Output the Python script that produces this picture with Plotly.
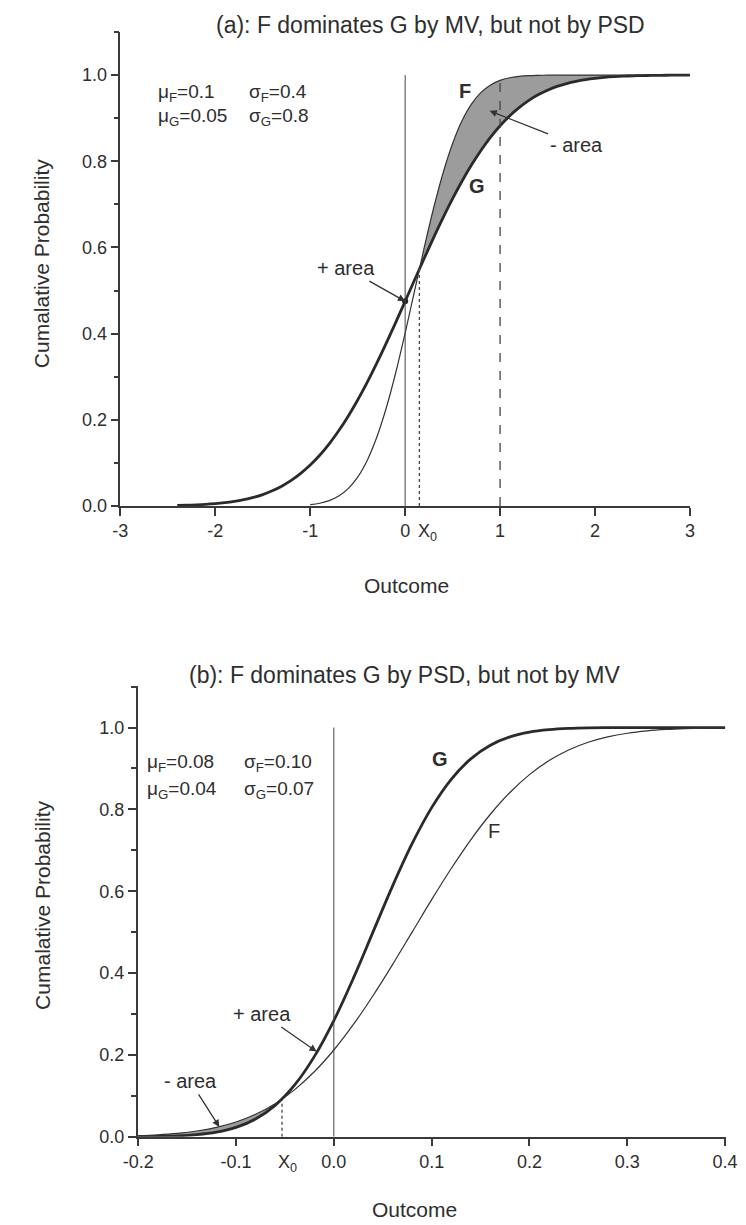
import plotly.graph_objects as go

FONT = "Liberation Sans, Arial, Helvetica, sans-serif"
TXT = "#2e2e2e"
AXC = "#3a3a3a"
SHADE = "#9c9c9c"

# ---------------- Panel (a) data ----------------
a_x_F = [-1.0, -0.9, -0.8, -0.7, -0.6, -0.5, -0.4, -0.3, -0.2, -0.1,
         0.0, 0.1, 0.2, 0.3, 0.4, 0.5, 0.6, 0.7, 0.8, 0.9,
         1.0, 1.1, 1.2, 1.3, 1.4, 1.5, 1.6, 1.7, 1.8, 1.9,
         2.0, 2.1, 2.2, 2.3, 2.4, 2.5, 2.6, 2.7, 2.8, 2.9, 3.0]
a_F = [0.0030, 0.0062, 0.0122, 0.0228, 0.0401, 0.0668, 0.1056, 0.1587, 0.2266, 0.3085,
       0.4013, 0.5000, 0.5987, 0.6915, 0.7734, 0.8413, 0.8944, 0.9332, 0.9599, 0.9772,
       0.9878, 0.9938, 0.9970, 0.9987, 0.9994, 0.9998, 0.9999, 1.0000, 1.0000, 1.0000,
       1.0000, 1.0000, 1.0000, 1.0000, 1.0000, 1.0000, 1.0000, 1.0000, 1.0000, 1.0000, 1.0000]

a_x_G = [-2.4, -2.3, -2.2, -2.1, -2.0, -1.9, -1.8, -1.7, -1.6, -1.5,
         -1.4, -1.3, -1.2, -1.1, -1.0, -0.9, -0.8, -0.7, -0.6, -0.5,
         -0.4, -0.3, -0.2, -0.1, 0.0, 0.1, 0.2, 0.3, 0.4, 0.5,
         0.6, 0.7, 0.8, 0.9, 1.0, 1.1, 1.2, 1.3, 1.4, 1.5,
         1.6, 1.7, 1.8, 1.9, 2.0, 2.1, 2.2, 2.3, 2.4, 2.5,
         2.6, 2.7, 2.8, 2.9, 3.0]
a_G = [0.0011, 0.0017, 0.0025, 0.0036, 0.0052, 0.0074, 0.0104, 0.0144, 0.0196, 0.0263,
       0.0350, 0.0458, 0.0591, 0.0753, 0.0947, 0.1175, 0.1440, 0.1743, 0.2083, 0.2459,
       0.2869, 0.3309, 0.3773, 0.4256, 0.4751, 0.5249, 0.5744, 0.6227, 0.6691, 0.7131,
       0.7541, 0.7917, 0.8257, 0.8560, 0.8825, 0.9053, 0.9247, 0.9409, 0.9542, 0.9650,
       0.9737, 0.9804, 0.9856, 0.9896, 0.9926, 0.9948, 0.9964, 0.9975, 0.9983, 0.9989,
       0.9993, 0.9995, 0.9997, 0.9998, 0.9999]

a_x0, a_y0 = 0.15, 0.5497          # crossing point x0
a_dash_x, a_dash_y = 1.0, 0.9878   # dashed reference at outcome 1
a_dot_x, a_dot_y = 0.0, 0.4751     # G at outcome 0
a_xticks = [-3, -2, -1, 0, 1, 2, 3]
a_xticktext = ["-3", "-2", "-1", "0", "1", "2", "3"]

# ---------------- Panel (b) data ----------------
b_x = [-0.20, -0.18, -0.16, -0.14, -0.12, -0.10, -0.08, -0.06, -0.04, -0.02,
       0.00, 0.02, 0.04, 0.06, 0.08, 0.10, 0.12, 0.14, 0.16, 0.18,
       0.20, 0.22, 0.24, 0.26, 0.28, 0.30, 0.32, 0.34, 0.36, 0.38, 0.40]
b_F = [0.0026, 0.0047, 0.0082, 0.0139, 0.0228, 0.0359, 0.0548, 0.0808, 0.1151, 0.1587,
       0.2119, 0.2743, 0.3446, 0.4207, 0.5000, 0.5793, 0.6554, 0.7257, 0.7881, 0.8413,
       0.8849, 0.9192, 0.9452, 0.9641, 0.9772, 0.9861, 0.9918, 0.9953, 0.9974, 0.9987, 0.9993]
b_G = [0.0003, 0.0008, 0.0021, 0.0051, 0.0111, 0.0228, 0.0432, 0.0766, 0.1265, 0.1957,
       0.2839, 0.3875, 0.5000, 0.6125, 0.7161, 0.8043, 0.8735, 0.9234, 0.9568, 0.9772,
       0.9889, 0.9949, 0.9979, 0.9992, 0.9997, 0.9999, 1.0000, 1.0000, 1.0000, 1.0000, 1.0000]
b_x0, b_y0 = -0.053, 0.0912
b_xticks = [-0.2, -0.1, 0.0, 0.1, 0.2, 0.3, 0.4]
b_xticktext = ["-0.2", "-0.1", "0.0", "0.1", "0.2", "0.3", "0.4"]

y_ticks = [0.0, 0.2, 0.4, 0.6, 0.8, 1.0]
y_ticktext = ["0.0", "0.2", "0.4", "0.6", "0.8", "1.0"]
y_minor = [0.1, 0.3, 0.5, 0.7, 0.9, 1.1]

# ---------------- shading polygons ----------------
sa_G_x = [a_x0] + [x for x in a_x_G if x > a_x0]
sa_G_y = [a_y0] + [y for x, y in zip(a_x_G, a_G) if x > a_x0]
sa_F_x = [a_x0] + [x for x in a_x_F if x > a_x0]
sa_F_y = [a_y0] + [y for x, y in zip(a_x_F, a_F) if x > a_x0]

sb_G_x = [x for x in b_x if x < b_x0] + [b_x0]
sb_G_y = [y for x, y in zip(b_x, b_G) if x < b_x0] + [b_y0]
sb_F_x = [x for x in b_x if x < b_x0] + [b_x0]
sb_F_y = [y for x, y in zip(b_x, b_F) if x < b_x0] + [b_y0]

fig = go.Figure()
# panel (a)
fig.add_trace(go.Scatter(x=sa_G_x, y=sa_G_y, mode="lines", line=dict(width=0, shape="spline"),
                         xaxis="x", yaxis="y", hoverinfo="skip", showlegend=False))
fig.add_trace(go.Scatter(x=sa_F_x, y=sa_F_y, mode="lines", line=dict(width=0, shape="spline"),
                         fill="tonexty", fillcolor=SHADE,
                         xaxis="x", yaxis="y", hoverinfo="skip", showlegend=False))
fig.add_trace(go.Scatter(x=a_x_G, y=a_G, mode="lines", name="G",
                         line=dict(color="#2a2a2a", width=2.8, shape="spline"),
                         xaxis="x", yaxis="y", showlegend=False))
fig.add_trace(go.Scatter(x=a_x_F, y=a_F, mode="lines", name="F",
                         line=dict(color="#333333", width=1.2, shape="spline"),
                         xaxis="x", yaxis="y", showlegend=False))
fig.add_trace(go.Scatter(x=[a_dot_x], y=[a_dot_y], mode="markers",
                         marker=dict(color="#222222", size=6),
                         xaxis="x", yaxis="y", showlegend=False))
# panel (b)
fig.add_trace(go.Scatter(x=sb_G_x, y=sb_G_y, mode="lines", line=dict(width=0, shape="spline"),
                         xaxis="x2", yaxis="y2", hoverinfo="skip", showlegend=False))
fig.add_trace(go.Scatter(x=sb_F_x, y=sb_F_y, mode="lines", line=dict(width=0, shape="spline"),
                         fill="tonexty", fillcolor=SHADE,
                         xaxis="x2", yaxis="y2", hoverinfo="skip", showlegend=False))
fig.add_trace(go.Scatter(x=b_x, y=b_G, mode="lines", name="G",
                         line=dict(color="#2a2a2a", width=2.8, shape="spline"),
                         xaxis="x2", yaxis="y2", showlegend=False))
fig.add_trace(go.Scatter(x=b_x, y=b_F, mode="lines", name="F",
                         line=dict(color="#333333", width=1.2, shape="spline"),
                         xaxis="x2", yaxis="y2", showlegend=False))

W, H = 746, 1225
def px(v):
    return v / W
def py(v):
    return 1 - v / H

axis_common = dict(showline=True, linecolor=AXC, linewidth=1.5, ticks="outside",
                   ticklen=8, tickwidth=1.5, tickcolor=AXC, showgrid=False, zeroline=False,
                   tickfont=dict(family=FONT, size=18, color=TXT), mirror=False)
yminor = dict(tickmode="array", tickvals=y_minor, ticks="outside", ticklen=5,
              tickwidth=1.5, tickcolor=AXC, showgrid=False)

fig.update_layout(
    width=W, height=H, margin=dict(l=0, r=0, t=0, b=0),
    paper_bgcolor="white", plot_bgcolor="white",
    font=dict(family=FONT, color=TXT),
    xaxis=dict(domain=[px(101), px(692)], anchor="y", range=[-3, 3],
               tickmode="array", tickvals=a_xticks, ticktext=a_xticktext, **axis_common),
    yaxis=dict(domain=[py(502), py(24)], anchor="x", range=[0, 1.1005],
               tickmode="array", tickvals=y_ticks, ticktext=y_ticktext, minor=yminor, **axis_common),
    xaxis2=dict(domain=[px(119), px(729)], anchor="y2", range=[-0.2005, 0.4005],
                tickmode="array", tickvals=b_xticks, ticktext=b_xticktext, **axis_common),
    yaxis2=dict(domain=[py(1138), py(684)], anchor="x2", range=[0, 1.1005],
                tickmode="array", tickvals=y_ticks, ticktext=y_ticktext, minor=yminor, **axis_common),
)

line_c = "#444444"
shapes = [
    dict(type="line", xref="x", yref="y", x0=0, x1=0, y0=0, y1=1.0, line=dict(color=line_c, width=1)),
    dict(type="line", xref="x", yref="y", x0=a_x0, x1=a_x0, y0=0, y1=a_y0,
         line=dict(color=line_c, width=1.3, dash="dot")),
    dict(type="line", xref="x", yref="y", x0=a_dash_x, x1=a_dash_x, y0=0, y1=a_dash_y,
         line=dict(color=line_c, width=1.3, dash="dash")),
    dict(type="line", xref="x2", yref="y2", x0=0, x1=0, y0=0, y1=1.0, line=dict(color=line_c, width=1)),
    dict(type="line", xref="x2", yref="y2", x0=b_x0, x1=b_x0, y0=0, y1=b_y0,
         line=dict(color=line_c, width=1.3, dash="dot")),
]
fig.update_layout(shapes=shapes)

ann = []
def txt(text, x, y, size, xref="paper", yref="paper", xanchor="center", yanchor="middle", **kw):
    ann.append(dict(text=text, x=x, y=y, xref=xref, yref=yref, xanchor=xanchor, yanchor=yanchor,
                    showarrow=False, font=dict(family=FONT, size=size, color=TXT), **kw))

def arrow_label(text, tx, ty, hx, hy, xref, yref):
    # label centred at (tx, ty), arrow from label edge to (hx, hy)
    ann.append(dict(text=text, x=hx, y=hy, ax=tx, ay=ty, xref=xref, yref=yref,
                    axref=xref, ayref=yref, showarrow=True, arrowhead=2, arrowsize=1.1,
                    arrowwidth=1.3, arrowcolor="#333333", standoff=0, startstandoff=1,
                    font=dict(family=FONT, size=20, color=TXT)))

# titles
txt("(a): F dominates G by MV, but not by PSD", px(423), py(17), 23)
txt("(b): F dominates G by PSD, but not by MV", px(396), py(672), 23)
# axis titles
txt("Cumalative Probability", px(20), py(258), 21, textangle=-90)
txt("Cumalative Probability", px(20), py(905), 21, textangle=-90)
txt("Outcome", px(398), py(582), 21)
txt("Outcome", px(406), py(1211), 21)

# panel (a) labels
txt("μ<sub>F</sub>=0.1", -2.62, 0.959, 19, "x", "y", xanchor="left")
txt("σ<sub>F</sub>=0.4", -1.67, 0.959, 19, "x", "y", xanchor="left")
txt("μ<sub>G</sub>=0.05", -2.62, 0.903, 19, "x", "y", xanchor="left")
txt("σ<sub>G</sub>=0.8", -1.67, 0.903, 19, "x", "y", xanchor="left")
txt("<b>F</b>", 0.63, 0.963, 20, "x", "y")
txt("<b>G</b>", 0.76, 0.742, 20, "x", "y")
arrow_label("- area", 1.81, 0.837, 0.89, 0.917, "x", "y")
arrow_label("+ area", -0.62, 0.552, a_dot_x, a_dot_y, "x", "y")
txt("X<sub>0</sub>", a_x0, 0, 18, "x", "y", xanchor="left", yanchor="top", yshift=-13, xshift=-3)

# panel (b) labels
txt("μ<sub>F</sub>=0.08", -0.1926, 0.913, 19, "x2", "y2", xanchor="left")
txt("σ<sub>F</sub>=0.10", -0.094, 0.913, 19, "x2", "y2", xanchor="left")
txt("μ<sub>G</sub>=0.04", -0.1926, 0.847, 19, "x2", "y2", xanchor="left")
txt("σ<sub>G</sub>=0.07", -0.094, 0.847, 19, "x2", "y2", xanchor="left")
txt("<b>G</b>", 0.109, 0.922, 20, "x2", "y2")
txt("F", 0.164, 0.746, 20, "x2", "y2")
arrow_label("+ area", -0.073, 0.30, -0.0176, 0.208, "x2", "y2")
arrow_label("- area", -0.147, 0.136, -0.117, 0.024, "x2", "y2")
txt("X<sub>0</sub>", b_x0, 0, 18, "x2", "y2", xanchor="left", yanchor="top", yshift=-13, xshift=-6)

fig.update_layout(annotations=ann)
fig.write_html("out.html")
